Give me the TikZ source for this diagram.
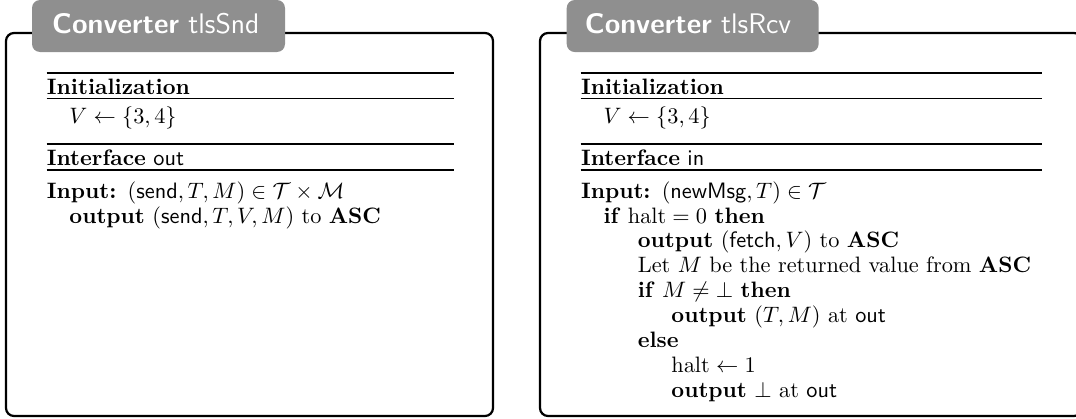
\documentclass[tikz,border=0pt]{standalone}
\usepackage{amsmath,amssymb}
\definecolor{tabgray}{RGB}{143,143,143}
\begin{document}
\begin{tikzpicture}[x=0.4484pt,y=-0.4484pt,
  cvbox/.style={draw=black,line width=1pt,rounded corners=3.6pt},
  cvtab/.style={fill=tabgray,draw=none,rounded corners=3.6pt},
  cvtitle/.style={anchor=base west,inner sep=0pt,text=white,font=\fontsize{12.7}{15}\selectfont\sffamily},
  alg/.style={anchor=base west,inner sep=0pt,font=\normalsize},
  thickrule/.style={line width=0.8pt},
  thinrule/.style={line width=0.5pt}]
\useasboundingbox (0,0) rectangle (1076,418);
\clip (0,0) rectangle (1076,418);
% ---------- left box ----------
\draw[cvbox] (6,33) rectangle (493,416);
\fill[cvtab] (32,0) rectangle (285,52);
\node[cvtitle] (t1) at (51.7,33.3) {\textbf{Converter} tlsSnd};
\draw[thickrule] (46.5,73.3) -- (453.5,73.3);
\node[alg] (l1) at (46.5,94) {\textbf{Initialization}};
\draw[thinrule] (46.5,98.6) -- (453.5,98.6);
\node[alg] (l2) at (69,123.3) {$V \gets \{3,4\}$};
\draw[thickrule] (46.5,144.3) -- (453.5,144.3);
\node[alg] (l3) at (46.5,165) {\textbf{Interface} \textsf{out}};
\draw[thinrule] (46.5,170) -- (453.5,170);
\node[alg] (l4) at (46.5,198.3) {\textbf{Input:}\enspace$(\textsf{send}, T, M) \in \mathcal{T} \times \mathcal{M}$};
\node[alg] (l5) at (69,223.2) {\textbf{output} $(\textsf{send}, T, V, M)$ to \textbf{ASC}};
% ---------- right box ----------
\draw[cvbox] (540,33) rectangle (1082,416);
\fill[cvtab] (566.7,0) rectangle (818.6,52);
\node[cvtitle] (t2) at (584.4,33.3) {\textbf{Converter} tlsRcv};
\draw[thickrule] (580.6,73.3) -- (1042,73.3);
\node[alg] (r1) at (580.6,94) {\textbf{Initialization}};
\draw[thinrule] (580.6,98.6) -- (1042,98.6);
\node[alg] (r2) at (603.1,123.3) {$V \gets \{3,4\}$};
\draw[thickrule] (580.6,144.3) -- (1042,144.3);
\node[alg] (r3) at (580.6,165) {\textbf{Interface} \textsf{in}};
\draw[thinrule] (580.6,170) -- (1042,170);
\node[alg] (r4) at (580.6,198.3) {\textbf{Input:}\enspace$(\textsf{newMsg}, T) \in \mathcal{T}$};
\node[alg] (r5) at (603.1,223.0) {\textbf{if} $\mathrm{halt} = 0$ \textbf{then}};
\node[alg] (r6) at (637.4,247.5) {\textbf{output} $(\textsf{fetch}, V)$ to \textbf{ASC}};
\node[alg] (r7) at (637.4,272.5) {Let $M$ be the returned value from \textbf{ASC}};
\node[alg] (r8) at (637.4,297.8) {\textbf{if} $M \neq \bot$ \textbf{then}};
\node[alg] (r9) at (671,322.8) {\textbf{output} $(T, M)$ at \textsf{out}};
\node[alg] (r10) at (637.4,347.2) {\textbf{else}};
\node[alg] (r11) at (671,372.2) {$\mathrm{halt} \gets 1$};
\node[alg] (r12) at (671,397) {\textbf{output} $\bot$ at \textsf{out}};
\end{tikzpicture}
\end{document}
